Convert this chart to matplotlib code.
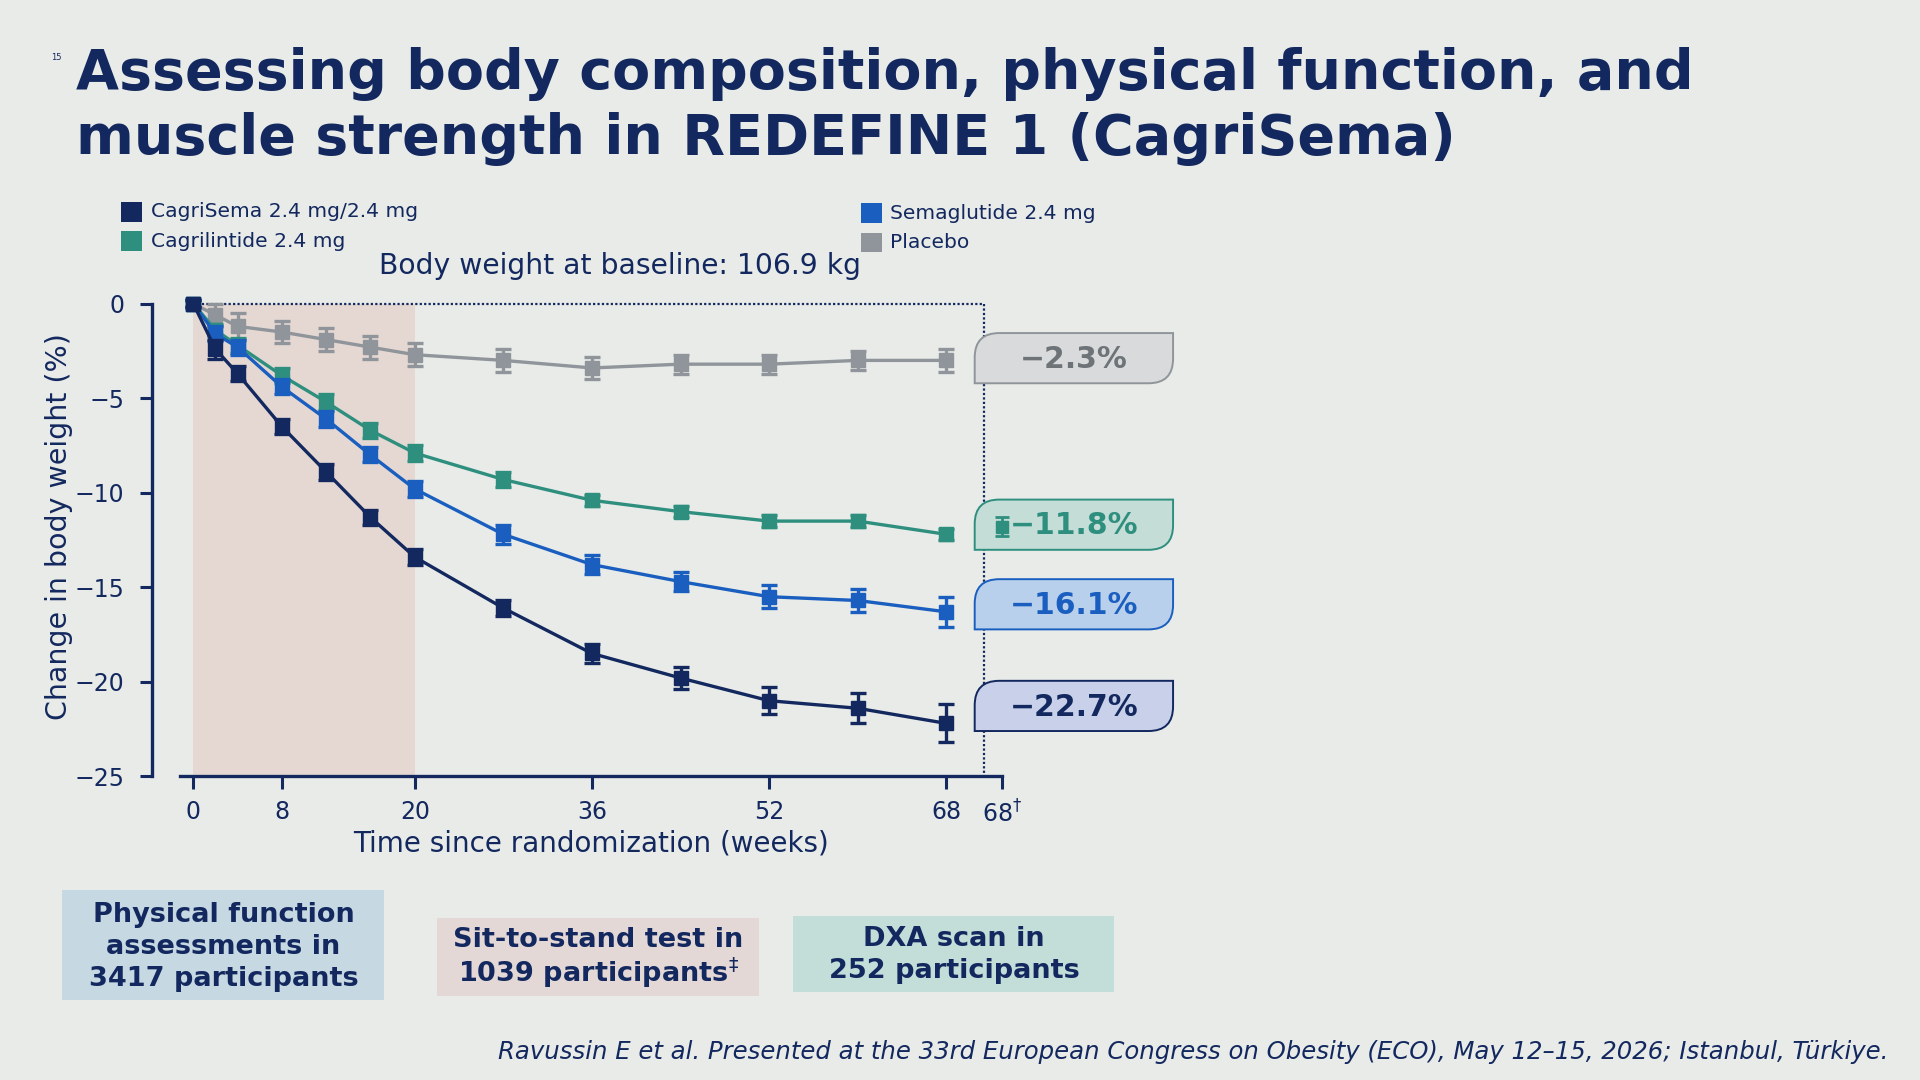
import matplotlib
matplotlib.use("Agg")
import matplotlib.pyplot as plt
from matplotlib.patches import PathPatch, Rectangle
from matplotlib.path import Path

# ---- data ----
weeks = [0, 2, 4, 8, 12, 16, 20, 28, 36, 44, 52, 60, 68]
cagrisema = [0, -2.4, -3.7, -6.5, -8.9, -11.3, -13.4, -16.1, -18.5, -19.8, -21.0, -21.4, -22.2]
cagrisema_se = [0.2, 0.5, 0.4, 0.4, 0.4, 0.4, 0.4, 0.4, 0.5, 0.6, 0.7, 0.8, 1.0]
semaglutide = [0, -1.6, -2.3, -4.4, -6.1, -8.0, -9.8, -12.2, -13.8, -14.7, -15.5, -15.7, -16.3]
semaglutide_se = [0.2, 0.4, 0.4, 0.4, 0.4, 0.4, 0.4, 0.5, 0.5, 0.5, 0.6, 0.6, 0.8]
cagrilintide = [0, -1.4, -2.2, -3.8, -5.2, -6.7, -7.9, -9.3, -10.4, -11.0, -11.5, -11.5, -12.2]
cagrilintide_se = [0.2, 0.3, 0.4, 0.4, 0.4, 0.4, 0.4, 0.4, 0.3, 0.3, 0.3, 0.3, 0.3]
placebo = [0, -0.6, -1.2, -1.5, -1.9, -2.3, -2.7, -3.0, -3.4, -3.2, -3.2, -3.0, -3.0]
placebo_se = [0.2, 0.6, 0.7, 0.6, 0.6, 0.6, 0.6, 0.6, 0.6, 0.5, 0.5, 0.5, 0.6]

# end-of-treatment (68 dagger) estimates
eot_week = 73.0
eot_labels = ["\u22122.3%", "\u221211.8%", "\u221216.1%", "\u221222.7%"]
eot_cagrilintide = -11.8

xticks = [0, 8, 20, 36, 52, 68, eot_week]
xticklabels = ["0", "8", "20", "36", "52", "68", r"68$^{\dagger}$"]
yticks = [0, -5, -10, -15, -20, -25]

names = ["CagriSema 2.4 mg/2.4 mg", "Cagrilintide 2.4 mg", "Semaglutide 2.4 mg", "Placebo"]

NAVY = "#13285e"
BLUE = "#1a5fbf"
TEAL = "#2f8f7f"
GRAY = "#8f959a"
BG = "#e8ebe8"

# slide was laid out at 1568x882, convert to figure fractions
W, H = 1568.0, 882.0
def fx(x):
    return x / W
def fy(y):
    return 1 - y / H

plt.rcParams["font.family"] = ["DejaVu Sans"]

fig = plt.figure(figsize=(19.2, 10.8), dpi=100, facecolor=BG)

# title
fig.text(fx(46), fy(47), "15", fontsize=6, color=NAVY, ha="center", va="center")
fig.text(fx(62), fy(87), "Assessing body composition, physical function, and\nmuscle strength in REDEFINE 1 (CagriSema)",
         fontsize=40, fontweight="bold", color=NAVY, ha="left", va="center", linespacing=1.27)

# legend drawn by hand (two columns far apart)
leg = [(99, 173, NAVY, names[0]), (99, 197, TEAL, names[1]),
       (703, 174, BLUE, names[2]), (703, 198, GRAY, names[3])]
for lx, ly, c, t in leg:
    fig.patches.append(Rectangle((fx(lx), fy(ly + 8)), 17 / W, 16 / H, transform=fig.transFigure,
                                 facecolor=c, edgecolor="none"))
    fig.text(fx(lx + 24), fy(ly), t, fontsize=14.6, color=NAVY, ha="left", va="center")

fig.text(fx(506), fy(217), "Body weight at baseline: 106.9 kg", fontsize=20.3, color=NAVY, ha="center", va="center")

ax = fig.add_axes([fx(147), fy(634), (818 - 147) / W, (634 - 248) / H])
ax.set_facecolor("none")
ax.set_xlim(-1.2, eot_week)
ax.set_ylim(-25, 0)

ax.axvspan(0, 20, color="#e5d8d3", zorder=0, lw=0)
ax.plot([0, 71.45], [0, 0], color=NAVY, lw=1.6, ls=(0, (1, 1)), zorder=1, clip_on=False)
ax.plot([71.45, 71.45], [0, -25], color=NAVY, lw=1.6, ls=(0, (1, 1)), zorder=1)

series = [(placebo, placebo_se, GRAY), (cagrilintide, cagrilintide_se, TEAL),
          (semaglutide, semaglutide_se, BLUE), (cagrisema, cagrisema_se, NAVY)]
for i, (vals, se, c) in enumerate(series):
    z = 3 + i
    ax.plot(weeks, vals, color=c, lw=2.4, zorder=z, clip_on=False)
    ax.errorbar(weeks, vals, yerr=se, fmt="s", color=c, ms=9.5, capsize=6, capthick=2.4,
                elinewidth=2.4, zorder=z, clip_on=False)

ax.spines["top"].set_visible(False)
ax.spines["right"].set_visible(False)
ax.spines["left"].set_position(("outward", 20))
ax.spines["left"].set_bounds(-25, 0)
for s in ["left", "bottom"]:
    ax.spines[s].set_linewidth(2.4)
    ax.spines[s].set_color(NAVY)

ax.set_xticks(xticks)
ax.set_xticklabels(xticklabels)
ax.set_yticks(yticks)
ax.tick_params(axis="both", colors=NAVY, labelsize=17, length=9, width=2.2, direction="out")
ax.tick_params(axis="x", pad=8)
ax.tick_params(axis="y", pad=11)
ax.set_xlabel("Time since randomization (weeks)", fontsize=20, color=NAVY, labelpad=2)
ax.set_ylabel("Change in body weight (%)", fontsize=20.5, color=NAVY)
ax.yaxis.set_label_coords((60 - 147) / 671, (634 - 430) / 386)


def tab_box(x0, y0, x1, y1, r, fc, ec, lw=1.4, z=10):
    # rounded top-left and bottom-right corners, coordinates in slide pixels
    X0, X1 = fx(x0), fx(x1)
    Y0, Y1 = fy(y1), fy(y0)
    rx, ry = r / W, r / H
    verts = [(X0, Y0), (X1 - rx, Y0), (X1, Y0), (X1, Y0 + ry), (X1, Y1),
             (X0 + rx, Y1), (X0, Y1), (X0, Y1 - ry), (X0, Y0)]
    codes = [Path.MOVETO, Path.LINETO, Path.CURVE3, Path.CURVE3, Path.LINETO,
             Path.LINETO, Path.CURVE3, Path.CURVE3, Path.CLOSEPOLY]
    p = PathPatch(Path(verts, codes), transform=fig.transFigure, facecolor=fc,
                  edgecolor=ec, lw=lw, zorder=z)
    fig.patches.append(p)


boxes = [(272, 313, "#d8dadb", GRAY, "#6e7378"),
         (408, 449, "#c4ddd7", TEAL, TEAL),
         (473, 514, "#b9d0ec", BLUE, BLUE),
         (556, 597, "#c8d1e9", NAVY, NAVY)]
for (y0, y1, fc, ec, tc), lab in zip(boxes, eot_labels):
    tab_box(796, y0, 958, y1, 20, fc, ec)
    fig.text(fx(877), fy((y0 + y1) / 2 + 1), lab, fontsize=21.5, fontweight="bold", color=tc,
             ha="center", va="center", zorder=11)

# cagrilintide end-of-treatment point shows on top of its box
ax2 = fig.add_axes(ax.get_position(), sharex=ax, sharey=ax, zorder=12)
ax2.set_axis_off()
ax2.errorbar([eot_week], [eot_cagrilintide], yerr=[0.5], fmt="s", color=TEAL, ms=8, capsize=5,
             capthick=2, elinewidth=2, clip_on=False)

# study boxes under the chart
study = [(51, 727, 314, 817, "#c6d8e2", "Physical function\nassessments in\n3417 participants", 1.3),
         (357, 750, 620, 813, "#e4d8d7", "Sit-to-stand test in\n1039 participants$^{\\ddagger}$", 1.1),
         (648, 748, 910, 810, "#c3ddd8", "DXA scan in\n252 participants", 1.3)]
for x0, y0, x1, y1, fc, t, lsp in study:
    fig.patches.append(Rectangle((fx(x0), fy(y1)), (x1 - x0) / W, (y1 - y0) / H,
                                 transform=fig.transFigure, facecolor=fc, edgecolor="none"))
    fig.text(fx((x0 + x1) / 2), fy((y0 + y1) / 2 + 1), t, fontsize=19.5, fontweight="bold", color=NAVY,
             ha="center", va="center", linespacing=lsp)

fig.text(fx(1542), fy(859), "Ravussin E et al. Presented at the 33rd European Congress on Obesity (ECO), "
         "May 12\u201315, 2026; Istanbul, T\u00fcrkiye.", fontsize=17.6, style="italic", color=NAVY,
         ha="right", va="center")

fig.savefig("out.png", dpi=100, facecolor=BG)
